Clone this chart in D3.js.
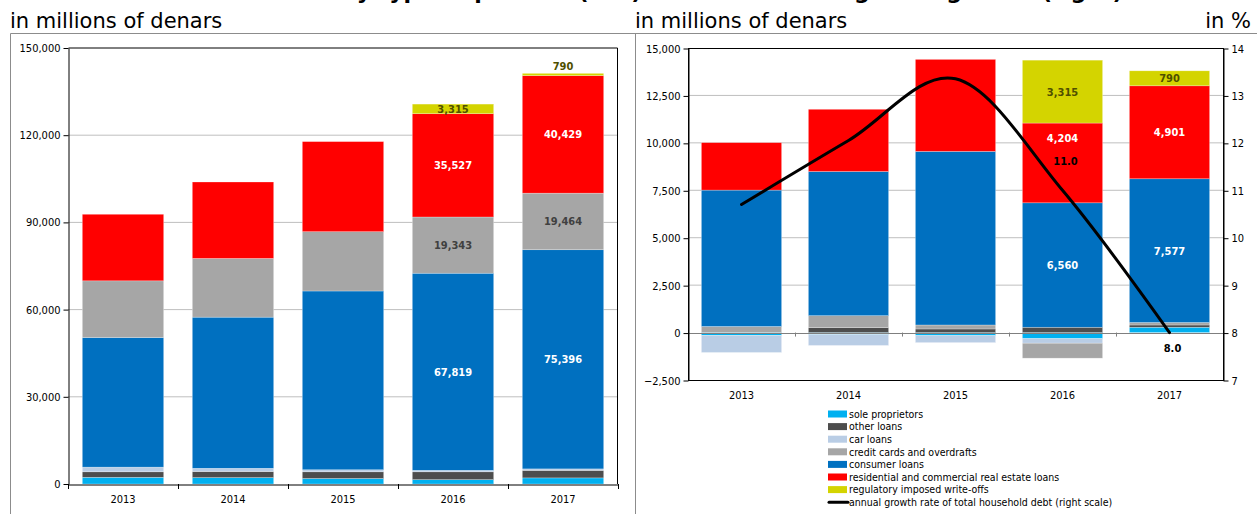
<!DOCTYPE html>
<meta charset="utf-8">

<!-- Load d3.js -->
<script src="https://d3js.org/d3.v7.min.js"></script>

<style type="text/css">
    body { margin: 0; background: #fff; }
    text { font-family: "DejaVu Sans Condensed", "DejaVu Sans", sans-serif; }
    .tick-label { font-size: 11px; fill: #000; }
    .bar-label { font-size: 11px; font-weight: bold; }
    .caption { font-family: "DejaVu Sans", sans-serif; font-size: 21px; }
    .legend text { font-size: 10.5px; fill: #000; }
</style>

<div id="my_dataviz"></div>

<script>
    // categories
    var years = ["2013", "2014", "2015", "2016", "2017"];

    // left chart: stock of household debt, in millions of denars
    var soleStock       = [2300, 2200, 1900, 1500, 2100];
    var otherStock      = [1900, 2100, 2300, 2700, 2600];
    var carStock        = [1600, 1100, 700, 500, 500];
    var consumerStock   = [44600, 52000, 61500, 67819, 75396];
    var cardsStock      = [19500, 20200, 20400, 19343, 19464];
    var realEstateStock = [22900, 26300, 31000, 35527, 40429];
    var writeOffStock   = [0, 0, 0, 3315, 790];

    // right chart: annual change, in millions of denars
    var soleChange       = [-150, -100, -160, -320, 280];
    var otherChange      = [0, 260, 190, 280, 120];
    var carChange        = [-900, -580, -370, -240, 0];
    var cardsChange      = [320, 630, 210, -790, 130];
    var consumerChange   = [7190, 7600, 9150, 6560, 7577];
    var realEstateChange = [2500, 3280, 4850, 4204, 4901];
    var writeOffChange   = [0, 0, 0, 3315, 790];

    // right scale: annual growth rate of total household debt, in %
    var growthRate = [10.7, 12.05, 13.35, 11.0, 8.0];

    // tick labels
    var leftTicks  = [0, 30000, 60000, 90000, 120000, 150000];
    var rightTicks = [-2500, 0, 2500, 5000, 7500, 10000, 12500, 15000];
    var pctTicks   = [7, 8, 9, 10, 11, 12, 13, 14];

    // series names (legend order)
    var seriesKeys  = ["sole", "other", "car", "cards", "consumer", "realEstate", "writeOff"];
    var seriesNames = ["sole proprietors", "other loans", "car loans", "credit cards and overdrafts",
                       "consumer loans", "residential and commercial real estate loans",
                       "regulatory imposed write-offs"];
    var lineName = "annual growth rate of total household debt (right scale)";

    var color = d3.scaleOrdinal()
        .domain(seriesKeys)
        .range(["#00B0F0", "#4D4D4D", "#B9CDE5", "#A6A6A6", "#0070C0", "#FF0000", "#D4D400"]);
    var labelColor = {consumer: "#fff", realEstate: "#fff", cards: "#404040", writeOff: "#4F4F00"};

    // rows for d3.stack
    var stockRows = years.map(function(y, i) {
        return {year: y, sole: soleStock[i], other: otherStock[i], car: carStock[i],
                consumer: consumerStock[i], cards: cardsStock[i],
                realEstate: realEstateStock[i], writeOff: writeOffStock[i]};
    });
    var changeRows = years.map(function(y, i) {
        return {year: y, sole: soleChange[i], other: otherChange[i], car: carChange[i],
                cards: cardsChange[i], consumer: consumerChange[i],
                realEstate: realEstateChange[i], writeOff: writeOffChange[i]};
    });

    var fmt = d3.format(",");

    var svg = d3.select("#my_dataviz")
        .append("svg")
        .attr("width", 1257)
        .attr("height", 514);

    // title, mostly cut off at the top of the picture
    svg.append("text")
        .attr("x", 630).attr("y", -1)
        .attr("text-anchor", "middle")
        .style("font-family", "'DejaVu Sans', sans-serif")
        .style("font-size", "22px").style("font-weight", "bold")
        .text("Household debt by type of product (left) and annual change and growth (right)");

    // unit captions
    svg.append("text").attr("class", "caption").attr("x", 10).attr("y", 28)
        .text("in millions of denars");
    svg.append("text").attr("class", "caption").attr("x", 635).attr("y", 28)
        .text("in millions of denars");
    svg.append("text").attr("class", "caption").attr("x", 1251).attr("y", 28)
        .attr("text-anchor", "end").text("in %");

    // panel borders
    svg.append("path")
        .attr("d", "M10.5,520V33.5H1260M635.5,33.5V520")
        .attr("fill", "none").attr("stroke", "#8c8c8c");

    // stacked bars helper
    function drawBars(g, rows, keys, x, y, labelKeys, labelYears, shift) {
        var stacked = d3.stack().keys(keys).offset(d3.stackOffsetDiverging)(rows);
        g.selectAll("g.series")
            .data(stacked)
            .enter().append("g")
            .attr("fill", function(d) { return color(d.key); })
            .selectAll("rect")
            .data(function(d) { return d; })
            .enter().append("rect")
            .attr("x", function(d) { return x(d.data.year); })
            .attr("width", x.bandwidth())
            .attr("y", function(d) { return y(Math.max(d[0], d[1])); })
            .attr("height", function(d) { return Math.abs(y(d[0]) - y(d[1])); })
            .attr("stroke", "#fff").attr("stroke-opacity", 0.45).attr("stroke-width", 0.6);

        // data labels
        stacked.forEach(function(s) {
            if (labelKeys.indexOf(s.key) < 0) return;
            s.forEach(function(d) {
                if (labelYears.indexOf(d.data.year) < 0) return;
                var top = y(d[1]), bottom = y(d[0]);
                var cy = (top + bottom) / 2;
                if (bottom - top < 6) cy = top - 7;
                cy += (shift[d.data.year + "-" + s.key] || 0);
                g.append("text")
                    .attr("class", "bar-label")
                    .attr("x", x(d.data.year) + x.bandwidth() / 2)
                    .attr("y", cy)
                    .attr("dy", "0.36em")
                    .attr("text-anchor", "middle")
                    .attr("fill", labelColor[s.key])
                    .text(fmt(d.data[s.key]));
            });
        });
    }

    // ---------------- left chart ----------------
    var xL = d3.scaleBand().domain(years).range([68, 618]).paddingInner(0.26).paddingOuter(0.13);
    var yL = d3.scaleLinear().domain([0, 150000]).range([484, 48]);
    var left = svg.append("g");

    // gridlines
    left.selectAll("line.grid")
        .data(leftTicks.slice(1, -1))
        .enter().append("line")
        .attr("x1", 68).attr("x2", 618)
        .attr("y1", function(d) { return yL(d); }).attr("y2", function(d) { return yL(d); })
        .attr("stroke", "#bfbfbf");

    drawBars(left, stockRows,
        ["sole", "other", "car", "consumer", "cards", "realEstate", "writeOff"],
        xL, yL, ["consumer", "cards", "realEstate", "writeOff"], ["2016", "2017"], {});

    // frame
    left.append("path")
        .attr("d", "M68.5," + yL(150000) + "H617.5V" + yL(0))
        .attr("fill", "none").attr("stroke", "#000");

    var yAxisL = left.append("g")
        .attr("transform", "translate(68.5,0)")
        .call(d3.axisLeft(yL).tickValues(leftTicks).tickFormat(fmt).tickSize(5).tickSizeOuter(0));
    yAxisL.selectAll("text").attr("class", "tick-label").attr("font-size", null).attr("font-family", null);

    var xAxisL = left.append("g")
        .attr("transform", "translate(0," + (yL(0) + 0.5) + ")")
        .call(d3.axisBottom(xL).tickSize(0).tickSizeOuter(0));
    xAxisL.selectAll("text").attr("class", "tick-label").attr("font-size", null).attr("font-family", null)
        .attr("dy", "1.4em");
    // category boundary ticks
    left.selectAll("line.xtick")
        .data(d3.range(years.length + 1))
        .enter().append("line")
        .attr("x1", function(i) { return Math.round(68 + i * xL.step()) + 0.5; })
        .attr("x2", function(i) { return Math.round(68 + i * xL.step()) + 0.5; })
        .attr("y1", yL(0)).attr("y2", yL(0) + 5)
        .attr("stroke", "#000");

    // ---------------- right chart ----------------
    var xR = d3.scaleBand().domain(years).range([688, 1223]).paddingInner(0.25).paddingOuter(0.125);
    var yR = d3.scaleLinear().domain([-2500, 15000]).range([380, 48]);
    var yP = d3.scaleLinear().domain([7, 14]).range([380, 48]);
    var right = svg.append("g");

    right.selectAll("line.grid")
        .data(rightTicks.filter(function(t) { return t > 0 && t < 15000; }))
        .enter().append("line")
        .attr("x1", 688).attr("x2", 1223)
        .attr("y1", function(d) { return yR(d); }).attr("y2", function(d) { return yR(d); })
        .attr("stroke", "#bfbfbf");

    // the 2016 real estate label sits higher, clear of the growth label
    drawBars(right, changeRows,
        ["sole", "other", "car", "cards", "consumer", "realEstate", "writeOff"],
        xR, yR, ["consumer", "realEstate", "writeOff"], ["2016", "2017"], {"2016-realEstate": -25});

    // zero line with category ticks
    right.append("line")
        .attr("x1", 688).attr("x2", 1223)
        .attr("y1", Math.round(yR(0)) + 0.5).attr("y2", Math.round(yR(0)) + 0.5)
        .attr("stroke", "#7f7f7f");
    right.selectAll("line.xtick")
        .data(d3.range(years.length + 1))
        .enter().append("line")
        .attr("x1", function(i) { return Math.round(688 + i * xR.step()) + 0.5; })
        .attr("x2", function(i) { return Math.round(688 + i * xR.step()) + 0.5; })
        .attr("y1", yR(0)).attr("y2", yR(0) + 4)
        .attr("stroke", "#7f7f7f");

    // frame
    right.append("rect")
        .attr("x", 688.5).attr("y", yR(15000) + 0.5)
        .attr("width", 1223 - 688).attr("height", yR(-2500) - yR(15000))
        .attr("fill", "none").attr("stroke", "#000");

    var yAxisR = right.append("g")
        .attr("transform", "translate(688.5,0.5)")
        .call(d3.axisLeft(yR).tickValues(rightTicks).tickFormat(fmt).tickSize(5).tickSizeOuter(0));
    yAxisR.selectAll("text").attr("class", "tick-label").attr("font-size", null).attr("font-family", null);

    var pAxis = right.append("g")
        .attr("transform", "translate(1223.5,0.5)")
        .call(d3.axisRight(yP).tickValues(pctTicks).tickFormat(d3.format("d")).tickSize(5).tickSizeOuter(0));
    pAxis.selectAll("text").attr("class", "tick-label").attr("font-size", null).attr("font-family", null);

    // category labels below the plot
    right.selectAll("text.year")
        .data(years)
        .enter().append("text")
        .attr("class", "tick-label")
        .attr("x", function(d) { return xR(d) + xR.bandwidth() / 2; })
        .attr("y", yR(-2500) + 15)
        .attr("dy", "0.36em")
        .attr("text-anchor", "middle")
        .text(function(d) { return d; });

    // growth line on the right scale
    var growthData = years.map(function(y, i) { return {year: y, value: growthRate[i]}; });
    var line = d3.line()
        .x(function(d) { return xR(d.year) + xR.bandwidth() / 2; })
        .y(function(d) { return yP(d.value); })
        .curve(d3.curveCatmullRom.alpha(0));
    right.append("path")
        .datum(growthData)
        .attr("d", line)
        .attr("fill", "none")
        .attr("stroke", "#000")
        .attr("stroke-width", 3)
        .attr("stroke-linecap", "round");

    // labels on the last two points
    right.selectAll("text.growth")
        .data(growthData.slice(3))
        .enter().append("text")
        .attr("class", "bar-label")
        .attr("x", function(d) { return xR(d.year) + xR.bandwidth() / 2 + 3; })
        .attr("y", function(d, i) { return yP(d.value) + (i === 0 ? -29 : 15); })
        .attr("dy", "0.36em")
        .attr("text-anchor", "middle")
        .attr("fill", "#000")
        .text(function(d) { return d3.format(".1f")(d.value); });

    // ---------------- legend ----------------
    var legend = svg.append("g").attr("class", "legend")
        .attr("transform", "translate(828,414)");
    var items = seriesKeys.map(function(k, i) { return {key: k, name: seriesNames[i]}; });
    items.push({key: "line", name: lineName});

    var row = legend.selectAll("g")
        .data(items)
        .enter().append("g")
        .attr("transform", function(d, i) { return "translate(0," + (i * 12.6) + ")"; });
    row.filter(function(d) { return d.key !== "line"; })
        .append("rect")
        .attr("x", 0).attr("y", -3.5)
        .attr("width", 19).attr("height", 7)
        .attr("fill", function(d) { return color(d.key); });
    row.filter(function(d) { return d.key === "line"; })
        .append("line")
        .attr("x1", 1).attr("x2", 20).attr("y1", 0).attr("y2", 0)
        .attr("stroke", "#000").attr("stroke-width", 3).attr("stroke-linecap", "round");
    row.append("text")
        .attr("x", 21)
        .attr("dy", "0.36em")
        .text(function(d) { return d.name; });
</script>
